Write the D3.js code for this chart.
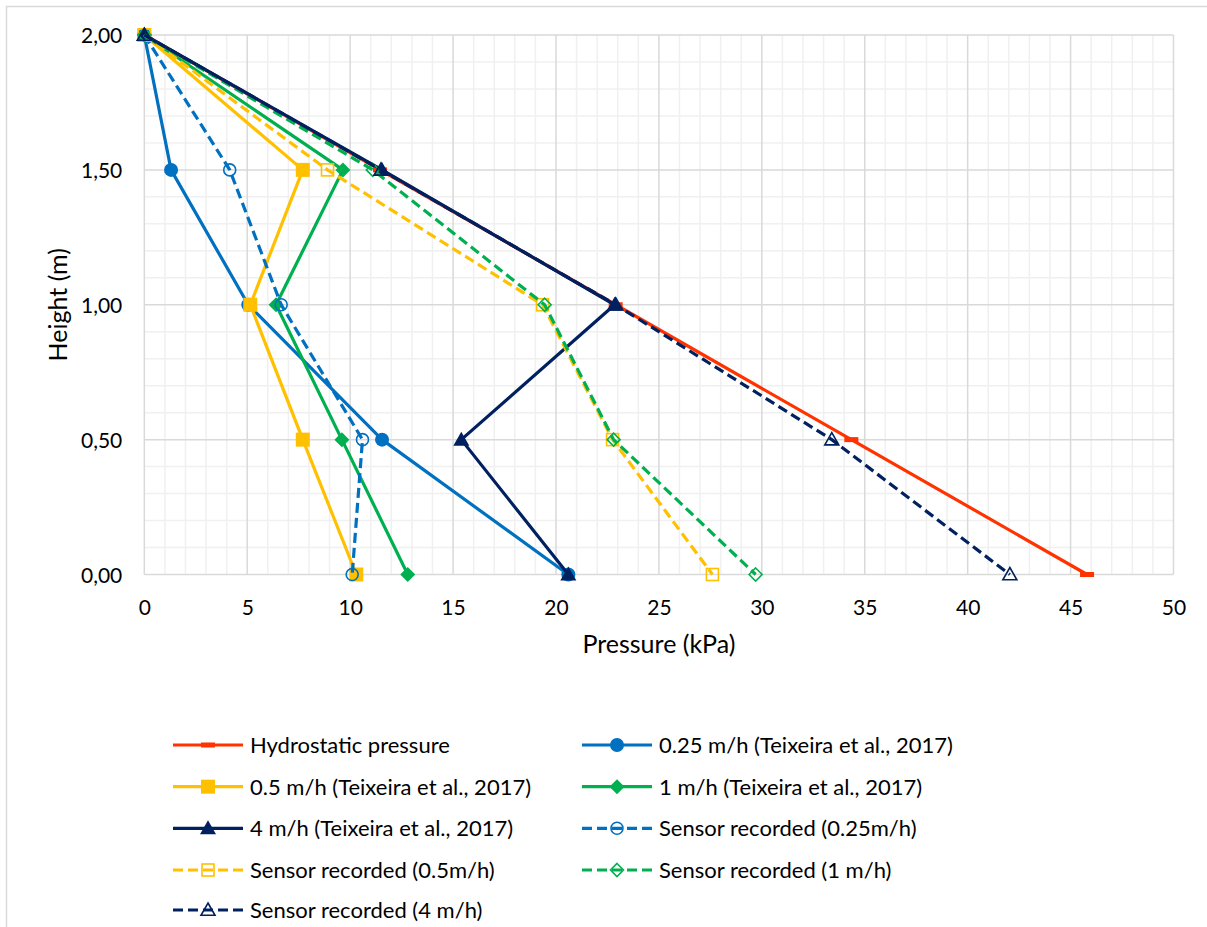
<!DOCTYPE html>
<html>
<head>
<meta charset="utf-8">
<script src="https://cdn.jsdelivr.net/npm/d3@7"></script>
<style>
  html, body { margin: 0; padding: 0; background: #fff; }
</style>
</head>
<body>
<svg id="chart" width="1207" height="927"></svg>
<script>
// Heights at which pressure was evaluated (m)
const heights = [2.0, 1.5, 1.0, 0.5, 0.0];

// Pressure (kPa) at each height, per series
const hydrostatic   = [0, 11.45, 22.9, 34.35, 45.8];
const teixeira025   = [0, 1.3, 5.05, 11.55, 20.6];
const teixeira05    = [0, 7.7, 5.15, 7.7, 10.3];
const teixeira1     = [0, 9.65, 6.4, 9.6, 12.8];
const teixeira4     = [0, 11.55, 22.85, 15.4, 20.6];
const sensor025     = [0, 4.15, 6.65, 10.6, 10.1];
const sensor05      = [0, 8.9, 19.35, 22.75, 27.6];
const sensor1       = [0, 11.1, 19.45, 22.8, 29.7];
const sensor4       = [0, 11.5, 22.9, 33.4, 42.05];

const xTicks = [0, 5, 10, 15, 20, 25, 30, 35, 40, 45, 50];
const yTicks = [0, 0.5, 1.0, 1.5, 2.0];

const seriesNames = [
  "Hydrostatic pressure",
  "0.25 m/h (Teixeira et al., 2017)",
  "0.5 m/h (Teixeira et al., 2017)",
  "1 m/h (Teixeira et al., 2017)",
  "4 m/h (Teixeira et al., 2017)",
  "Sensor recorded (0.25m/h)",
  "Sensor recorded (0.5m/h)",
  "Sensor recorded (1 m/h)",
  "Sensor recorded (4 m/h)"
];

const FONT = "Lato, 'Noto Sans', sans-serif";
const RED = "#FF3300", BLUE = "#0070C0", GOLD = "#FFC000", GREEN = "#00B050", NAVY = "#002060";

const series = [
  { name: seriesNames[0], values: hydrostatic, color: RED,   dashed: false, marker: "dash",     filled: true },
  { name: seriesNames[1], values: teixeira025, color: BLUE,  dashed: false, marker: "circle",   filled: true },
  { name: seriesNames[2], values: teixeira05,  color: GOLD,  dashed: false, marker: "square",   filled: true },
  { name: seriesNames[3], values: teixeira1,   color: GREEN, dashed: false, marker: "diamond",  filled: true },
  { name: seriesNames[4], values: teixeira4,   color: NAVY,  dashed: false, marker: "triangle", filled: true },
  { name: seriesNames[5], values: sensor025,   color: BLUE,  dashed: true,  marker: "circle",   filled: false },
  { name: seriesNames[6], values: sensor05,    color: GOLD,  dashed: true,  marker: "square",   filled: false },
  { name: seriesNames[7], values: sensor1,     color: GREEN, dashed: true,  marker: "diamond",  filled: false },
  { name: seriesNames[8], values: sensor4,     color: NAVY,  dashed: true,  marker: "triangle", filled: false }
];

const svg = d3.select("#chart");

// Chart frame
svg.append("rect")
  .attr("x", 6.5).attr("y", 6.5)
  .attr("width", 1220).attr("height", 940)
  .attr("fill", "#fff").attr("stroke", "#d9d9d9").attr("stroke-width", 1.5);

const plot = { left: 144.3, right: 1173.5, top: 35, bottom: 574.5 };

const x = d3.scaleLinear().domain([0, 50]).range([plot.left, plot.right]);
const y = d3.scaleLinear().domain([0, 2]).range([plot.bottom, plot.top]);

// Minor grid
const g = svg.append("g");
g.append("g").selectAll("line")
  .data(d3.range(0, 51, 1).filter(v => v % 5 !== 0))
  .join("line")
  .attr("x1", d => x(d)).attr("x2", d => x(d))
  .attr("y1", plot.top).attr("y2", plot.bottom)
  .attr("stroke", "#f0f0f0").attr("stroke-width", 1.5);
g.append("g").selectAll("line")
  .data(d3.range(0, 21, 1).filter(v => v % 5 !== 0).map(v => v / 10))
  .join("line")
  .attr("x1", plot.left).attr("x2", plot.right)
  .attr("y1", d => y(d)).attr("y2", d => y(d))
  .attr("stroke", "#f0f0f0").attr("stroke-width", 1.5);

// Major grid
g.append("g").selectAll("line")
  .data(xTicks)
  .join("line")
  .attr("x1", d => x(d)).attr("x2", d => x(d))
  .attr("y1", plot.top).attr("y2", plot.bottom)
  .attr("stroke", "#d9d9d9").attr("stroke-width", 1.5);
g.append("g").selectAll("line")
  .data(yTicks)
  .join("line")
  .attr("x1", plot.left).attr("x2", plot.right)
  .attr("y1", d => y(d)).attr("y2", d => y(d))
  .attr("stroke", "#d9d9d9").attr("stroke-width", 1.5);

// Axes (tick labels only; the lines come from the grid)
const fmtY = v => v.toFixed(2).replace(".", ",");
const xAxis = svg.append("g")
  .attr("transform", `translate(0,${plot.bottom})`)
  .call(d3.axisBottom(x).tickValues(xTicks).tickSize(0).tickFormat(d3.format("d")));
const yAxis = svg.append("g")
  .attr("transform", `translate(${plot.left},0)`)
  .call(d3.axisLeft(y).tickValues(yTicks).tickSize(0).tickFormat(fmtY));
[xAxis, yAxis].forEach(a => {
  a.select(".domain").remove();
  a.attr("font-family", FONT).attr("font-size", 21);
  a.selectAll("text").attr("fill", "#000");
});
xAxis.selectAll("text").attr("y", 40.5).attr("dy", null);
yAxis.selectAll("text").attr("x", -22).attr("dy", "0.36em");

// Axis titles
svg.append("text")
  .attr("x", (plot.left + plot.right) / 2).attr("y", 653)
  .attr("text-anchor", "middle")
  .attr("font-family", FONT).attr("font-size", 25)
  .text("Pressure (kPa)");
svg.append("text")
  .attr("transform", `translate(67,${(plot.top + plot.bottom) / 2}) rotate(-90)`)
  .attr("text-anchor", "middle")
  .attr("font-family", FONT).attr("font-size", 25)
  .text("Height (m)");

// Marker drawing (open markers have no fill, so the line shows through)
function drawMarker(sel, s, cx, cy) {
  const fill = s.filled ? s.color : "none";
  const sw = s.filled ? 0 : 1.6;
  if (s.marker === "circle") {
    sel.append("circle").attr("cx", cx).attr("cy", cy).attr("r", s.filled ? 7 : 6)
      .attr("fill", fill).attr("stroke", s.color).attr("stroke-width", sw);
  } else if (s.marker === "square") {
    const h = s.filled ? 7 : 6;
    sel.append("rect").attr("x", cx - h).attr("y", cy - h).attr("width", 2 * h).attr("height", 2 * h)
      .attr("fill", fill).attr("stroke", s.color).attr("stroke-width", sw);
  } else if (s.marker === "diamond") {
    const h = s.filled ? 7.5 : 6.5;
    sel.append("path").attr("d", `M${cx},${cy - h}L${cx + h},${cy}L${cx},${cy + h}L${cx - h},${cy}Z`)
      .attr("fill", fill).attr("stroke", s.color).attr("stroke-width", sw);
  } else if (s.marker === "triangle") {
    const h = s.filled ? 8 : 7;
    sel.append("path").attr("d", `M${cx},${cy - h}L${cx + h},${cy + h * 0.75}L${cx - h},${cy + h * 0.75}Z`)
      .attr("fill", fill).attr("stroke", s.color).attr("stroke-width", sw);
  } else if (s.marker === "dash") {
    sel.append("rect").attr("x", cx - 7).attr("y", cy - 2.5).attr("width", 14).attr("height", 5)
      .attr("fill", s.color);
  }
}

const line = d3.line().x(d => x(d[0])).y(d => y(d[1]));
const marks = svg.append("g");

series.forEach(s => {
  const pts = s.values.map((v, i) => [v, heights[i]]);
  const sg = marks.append("g");
  sg.append("path")
    .attr("d", line(pts))
    .attr("fill", "none")
    .attr("stroke", s.color)
    .attr("stroke-width", 3.2)
    .attr("stroke-linejoin", "round")
    .attr("stroke-dasharray", s.dashed ? "10,5" : null);
  pts.forEach(p => drawMarker(sg, s, x(p[0]), y(p[1])));
});

// Legend
const legendCols = [173, 582];
const legendRows = [745, 786.7, 828.3, 870, 910];
const legend = svg.append("g");
series.forEach((s, i) => {
  const lx = legendCols[i % 2];
  const ly = legendRows[Math.floor(i / 2)];
  const item = legend.append("g");
  item.append("line")
    .attr("x1", lx).attr("x2", lx + 70).attr("y1", ly).attr("y2", ly)
    .attr("stroke", s.color).attr("stroke-width", 3.2)
    .attr("stroke-dasharray", s.dashed ? "10,5" : null);
  drawMarker(item, s, lx + 35, ly);
  item.append("text")
    .attr("x", lx + 77).attr("y", ly + 8)
    .attr("font-family", FONT).attr("font-size", 22).attr("fill", "#000")
    .text(s.name);
});
</script>
</body>
</html>
